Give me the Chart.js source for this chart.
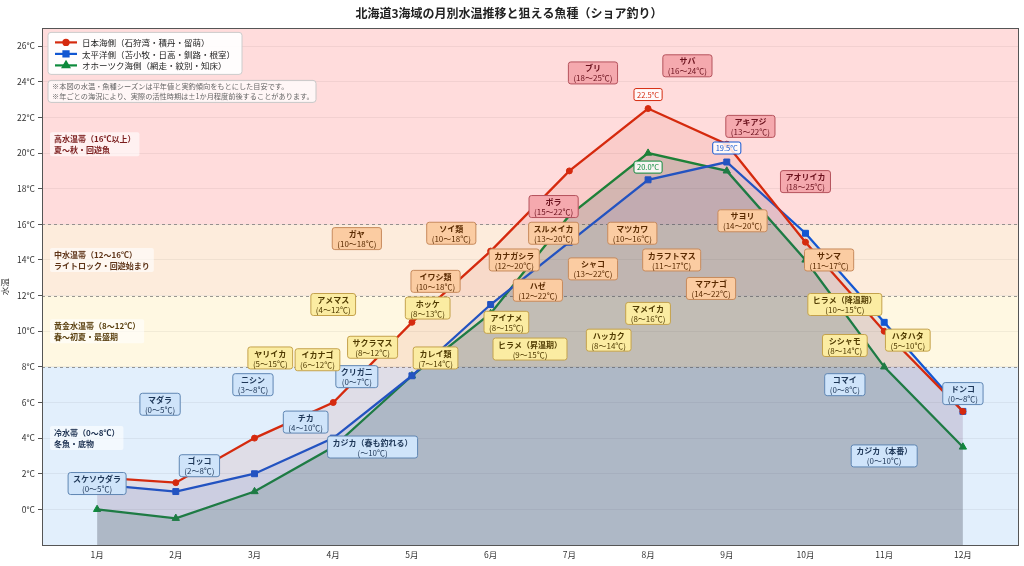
<!DOCTYPE html>
<html lang="ja">
<head>
<meta charset="UTF-8">
<title>北海道3海域の月別水温推移と狙える魚種</title>
<script src="https://cdn.jsdelivr.net/npm/chart.js@4.4.1/dist/chart.umd.min.js"></script>
<style>
  html, body { margin: 0; padding: 0; background: #fff; }
  #wrap { width: 1024px; height: 566px; }
</style>
</head>
<body>
<div id="wrap"><canvas id="grafico" width="1024" height="566"></canvas></div>
<script>
const FONTE = '"Noto Sans CJK JP", "Noto Sans", sans-serif';

// meses e valores (°C)
const meses = ['1月', '2月', '3月', '4月', '5月', '6月', '7月', '8月', '9月', '10月', '11月', '12月'];
const mesNum = [1, 2, 3, 4, 5, 6, 7, 8, 9, 10, 11, 12];
const yTicks = [0, 2, 4, 6, 8, 10, 12, 14, 16, 18, 20, 22, 24, 26];

const nihonkai = [1.8, 1.5, 4.0, 6.0, 10.5, 14.5, 19.0, 22.5, 20.5, 15.0, 10.0, 5.5];
const taiheiyo = [1.4, 1.0, 2.0, 4.0, 7.5, 11.5, 15.0, 18.5, 19.5, 15.5, 10.5, 5.5];
const okhotsk  = [0.0, -0.5, 1.0, 3.5, 7.5, 11.0, 16.5, 20.0, 19.0, 14.0, 8.0, 3.5];

const seriesNomes = [
  '日本海側（石狩湾・積丹・留萌）',
  '太平洋側（苫小牧・日高・釧路・根室）',
  'オホーツク海側（網走・紋別・知床）'
];

// faixas de temperatura (limites 8 / 12 / 16)
const zonaLimites = [8, 12, 16];
const zonaTitulos = ['冷水帯（0〜8℃）', '黄金水温帯（8〜12℃）', '中水温帯（12〜16℃）', '高水温帯（16℃以上）'];
const zonaSub = ['冬魚・底物', '春〜初夏・最盛期', 'ライトロック・回遊始まり', '夏〜秋・回遊魚'];
const zonaLabelTemp = [4.0, 10.0, 14.0, 20.5];

// peixes: nome, faixa, posição (mês, °C) e zona
const peixeNome = ['スケソウダラ', 'マダラ', 'ゴッコ', 'ニシン', 'チカ', 'クリガニ', 'カジカ（春も釣れる）', 'コマイ', 'カジカ（本番）', 'ドンコ',
  'ヤリイカ', 'イカナゴ', 'アメマス', 'サクラマス', 'ホッケ', 'カレイ類', 'アイナメ', 'ヒラメ（昇温期）', 'ハッカク', 'マメイカ', 'ヒラメ（降温期）', 'シシャモ', 'ハタハタ',
  'ガヤ', 'ソイ類', 'イワシ類', 'カナガシラ', 'スルメイカ', 'ハゼ', 'シャコ', 'マツカワ', 'カラフトマス', 'マアナゴ', 'サヨリ', 'サンマ',
  'ブリ', 'サバ', 'ボラ', 'アキアジ', 'アオリイカ'];
const peixeFaixa = ['(0〜5℃)', '(0〜5℃)', '(2〜8℃)', '(3〜8℃)', '(4〜10℃)', '(0〜7℃)', '(〜10℃)', '(0〜8℃)', '(0〜10℃)', '(0〜8℃)',
  '(5〜15℃)', '(6〜12℃)', '(4〜12℃)', '(8〜12℃)', '(8〜13℃)', '(7〜14℃)', '(8〜15℃)', '(9〜15℃)', '(8〜14℃)', '(8〜16℃)', '(10〜15℃)', '(8〜14℃)', '(5〜10℃)',
  '(10〜18℃)', '(10〜18℃)', '(10〜18℃)', '(12〜20℃)', '(13〜20℃)', '(12〜22℃)', '(13〜22℃)', '(10〜16℃)', '(11〜17℃)', '(14〜22℃)', '(14〜20℃)', '(11〜17℃)',
  '(18〜25℃)', '(16〜24℃)', '(15〜22℃)', '(13〜22℃)', '(18〜25℃)'];
const peixeMes = [1.0, 1.8, 2.3, 2.98, 3.65, 4.3, 4.5, 10.5, 11.0, 12.0,
  3.2, 3.8, 4.0, 4.5, 5.2, 5.3, 6.2, 6.5, 7.5, 8.0, 10.5, 10.5, 11.3,
  4.3, 5.5, 5.3, 6.3, 6.8, 6.6, 7.3, 7.8, 8.3, 8.8, 9.2, 10.3,
  7.3, 8.5, 6.8, 9.3, 10.0];
const peixeTemp = [1.45, 5.9, 2.45, 7.0, 4.9, 7.45, 3.5, 7.0, 3.0, 6.5,
  8.5, 8.4, 11.5, 9.1, 11.3, 8.5, 10.5, 9.0, 9.5, 11.0, 11.5, 9.2, 9.5,
  15.2, 15.5, 12.8, 14.0, 15.5, 12.3, 13.5, 15.5, 14.0, 12.4, 16.2, 14.0,
  24.5, 24.9, 17.0, 21.5, 18.4];
const peixeZona = [0, 0, 0, 0, 0, 0, 0, 0, 0, 0,
  1, 1, 1, 1, 1, 1, 1, 1, 1, 1, 1, 1, 1,
  2, 2, 2, 2, 2, 2, 2, 2, 2, 2, 2, 2,
  3, 3, 3, 3, 3];

// estilos
const coresLinha = ['#d52a0e', '#1357d2', '#0e8a3c'];
const coresFill = ['rgba(205,40,20,0.09)', 'rgba(20,80,200,0.10)', 'rgba(30,90,70,0.18)'];
const marcadores = ['circle', 'rect', 'triangle'];
const raios = [3, 4.2, 4.2];
const picoLado = [-1, -1, 1]; // -1 acima, 1 abaixo
const zonaFundo = ['#e2effc', '#fff8e2', '#fdecdc', '#ffdcdc'];
const zonaTexto = ['#1c3050', '#5a4010', '#5e3418', '#7a1c1c'];
const peixeFundo = ['#cfe4fa', '#fbeca2', '#fbcca2', '#f5a9ae'];
const peixeBorda = ['#5f86b3', '#c4a24c', '#c78a5c', '#b4525c'];
const peixeCor = ['#1c3556', '#4f3a00', '#5a2a00', '#6a101c'];

const series = [nihonkai, taiheiyo, okhotsk];

function caixa(ctx, x, y, w, h, r, fundo, borda) {
  ctx.beginPath();
  ctx.roundRect(x, y, w, h, r);
  ctx.fillStyle = fundo;
  ctx.fill();
  if (borda) {
    ctx.lineWidth = 1;
    ctx.strokeStyle = borda;
    ctx.stroke();
  }
}

const pluginDecor = {
  id: 'decor',
  beforeDraw(chart) {
    const { ctx, chartArea: a, scales: { y } } = chart;
    const bordas = [y.min].concat(zonaLimites, [y.max]);
    ctx.save();
    for (let i = 0; i < zonaFundo.length; i++) {
      const top = y.getPixelForValue(bordas[i + 1]);
      const bot = y.getPixelForValue(bordas[i]);
      ctx.fillStyle = zonaFundo[i];
      ctx.fillRect(a.left, top, a.right - a.left, bot - top);
    }
    ctx.restore();
  },
  beforeDatasetsDraw(chart) {
    const { ctx, chartArea: a, scales: { y } } = chart;
    ctx.save();
    ctx.setLineDash([3, 3]);
    ctx.strokeStyle = 'rgba(110,110,110,0.7)';
    ctx.lineWidth = 1;
    zonaLimites.forEach(v => {
      const py = Math.round(y.getPixelForValue(v)) + 0.5;
      ctx.beginPath();
      ctx.moveTo(a.left, py);
      ctx.lineTo(a.right, py);
      ctx.stroke();
    });
    ctx.restore();
  },
  afterDatasetsDraw(chart) {
    const { ctx, chartArea: a, scales: { x, y } } = chart;
    ctx.save();
    ctx.textAlign = 'center';
    ctx.textBaseline = 'middle';

    // etiquetas dos peixes
    peixeNome.forEach((nome, i) => {
      const z = peixeZona[i];
      ctx.font = 'bold 8px ' + FONTE;
      const w1 = ctx.measureText(nome).width;
      ctx.font = '8px ' + FONTE;
      const w2 = ctx.measureText(peixeFaixa[i]).width;
      const w = Math.max(w1, w2) + 10;
      const h = 22;
      const cx = x.getPixelForValue(peixeMes[i]);
      const cy = y.getPixelForValue(peixeTemp[i]);
      caixa(ctx, cx - w / 2, cy - h / 2, w, h, 2.5, peixeFundo[z], peixeBorda[z]);
      ctx.fillStyle = peixeCor[z];
      ctx.font = 'bold 8px ' + FONTE;
      ctx.fillText(nome, cx, cy - 4.5);
      ctx.font = '8px ' + FONTE;
      ctx.fillText(peixeFaixa[i], cx, cy + 5.5);
    });

    // picos de cada série
    series.forEach((s, k) => {
      let idx = 0;
      s.forEach((v, j) => { if (v > s[idx]) idx = j; });
      const txt = s[idx].toFixed(1) + '°C';
      ctx.font = '7.5px ' + FONTE;
      const w = ctx.measureText(txt).width + 6;
      const cx = x.getPixelForValue(mesNum[idx]);
      const cy = y.getPixelForValue(s[idx]) + picoLado[k] * 14;
      caixa(ctx, cx - w / 2, cy - 6, w, 12, 2, 'rgba(255,255,255,0.85)', coresLinha[k]);
      ctx.fillStyle = coresLinha[k];
      ctx.fillText(txt, cx, cy + 0.5);
    });

    // rótulos das zonas
    ctx.textAlign = 'left';
    zonaTitulos.forEach((t, i) => {
      ctx.font = 'bold 8px ' + FONTE;
      const w = Math.max(ctx.measureText(t).width, ctx.measureText(zonaSub[i]).width) + 8;
      const cy = y.getPixelForValue(zonaLabelTemp[i]);
      caixa(ctx, a.left + 8, cy - 12, w, 24, 2, 'rgba(255,255,255,0.6)');
      ctx.fillStyle = zonaTexto[i];
      ctx.fillText(t, a.left + 12, cy - 5);
      ctx.fillText(zonaSub[i], a.left + 12, cy + 6);
    });

    // legenda
    const lx = a.left + 6, ly = a.top + 4;
    caixa(ctx, lx, ly, 194, 42, 3, 'rgba(255,255,255,0.92)', '#cccccc');
    seriesNomes.forEach((n, k) => {
      const yy = ly + 10 + k * 11.5;
      ctx.strokeStyle = coresLinha[k];
      ctx.lineWidth = 2.2;
      ctx.beginPath();
      ctx.moveTo(lx + 7, yy);
      ctx.lineTo(lx + 29, yy);
      ctx.stroke();
      Chart.helpers.drawPoint(ctx, {
        pointStyle: marcadores[k], radius: raios[k] * 0.85, borderWidth: 1, rotation: 0
      }, lx + 18, yy);
      ctx.fillStyle = coresLinha[k];
      ctx.fill();
      ctx.fillStyle = '#222';
      ctx.font = '8.5px ' + FONTE;
      ctx.fillText(n, lx + 34, yy + 0.5);
    });

    // nota
    const nx = a.left + 6, ny = a.top + 52;
    caixa(ctx, nx, ny, 268, 22, 3, 'rgba(255,255,255,0.75)', '#c8c8c8');
    ctx.fillStyle = '#666';
    ctx.font = '7.2px ' + FONTE;
    ctx.fillText('※本図の水温・魚種シーズンは平年値と実釣傾向をもとにした目安です。', nx + 4, ny + 6);
    ctx.fillText('※年ごとの海況により、実際の活性時期は±1か月程度前後することがあります。', nx + 4, ny + 16);

    ctx.restore();
  },
  afterDraw(chart) {
    const { ctx, chartArea: a } = chart;
    ctx.save();
    ctx.strokeStyle = '#555';
    ctx.lineWidth = 1;
    ctx.strokeRect(Math.round(a.left) + 0.5, Math.round(a.top) + 0.5, Math.round(a.right - a.left), Math.round(a.bottom - a.top));
    ctx.restore();
  }
};

const datasets = series.map((s, k) => ({
  label: seriesNomes[k],
  data: s.map((v, j) => ({ x: mesNum[j], y: v })),
  borderColor: coresLinha[k],
  backgroundColor: coresFill[k],
  pointBackgroundColor: coresLinha[k],
  pointBorderColor: coresLinha[k],
  pointStyle: marcadores[k],
  pointRadius: raios[k],
  pointBorderWidth: 1,
  borderWidth: 2.3,
  tension: 0,
  fill: 'start'
}));

new Chart(document.getElementById('grafico').getContext('2d'), {
  type: 'line',
  data: { datasets: datasets },
  options: {
    responsive: false,
    animation: false,
    layout: { padding: { left: 0, right: 6, top: 0, bottom: 0 } },
    plugins: {
      legend: { display: false },
      tooltip: { enabled: false },
      title: {
        display: true,
        text: '北海道3海域の月別水温推移と狙える魚種（ショア釣り）',
        color: '#222',
        font: { family: FONTE, size: 12, weight: 'bold' },
        padding: { top: 6, bottom: 8 }
      }
    },
    scales: {
      x: {
        type: 'linear',
        min: 0.3,
        max: 12.7,
        afterFit: (s) => { s.height = 21; },
        afterBuildTicks: (s) => { s.ticks = mesNum.map(v => ({ value: v })); },
        grid: { display: false, drawTicks: true, tickLength: 4 },
        border: { display: true, color: '#555' },
        ticks: {
          color: '#333',
          padding: 1,
          font: { family: FONTE, size: 8.5 },
          callback: (v) => meses[mesNum.indexOf(v)]
        }
      },
      y: {
        min: -2,
        max: 27,
        afterFit: (s) => { s.width = 42; },
        afterBuildTicks: (s) => { s.ticks = yTicks.map(v => ({ value: v })); },
        grid: { color: 'rgba(0,0,0,0.05)', tickLength: 4, tickColor: '#555' },
        border: { display: true, color: '#555' },
        title: { display: true, text: '水温', color: '#333', font: { family: FONTE, size: 8.5 }, padding: 0 },
        ticks: {
          color: '#333',
          padding: 3,
          font: { family: FONTE, size: 8.5 },
          callback: (v) => v + '°C'
        }
      }
    }
  },
  plugins: [pluginDecor]
});
</script>
</body>
</html>
